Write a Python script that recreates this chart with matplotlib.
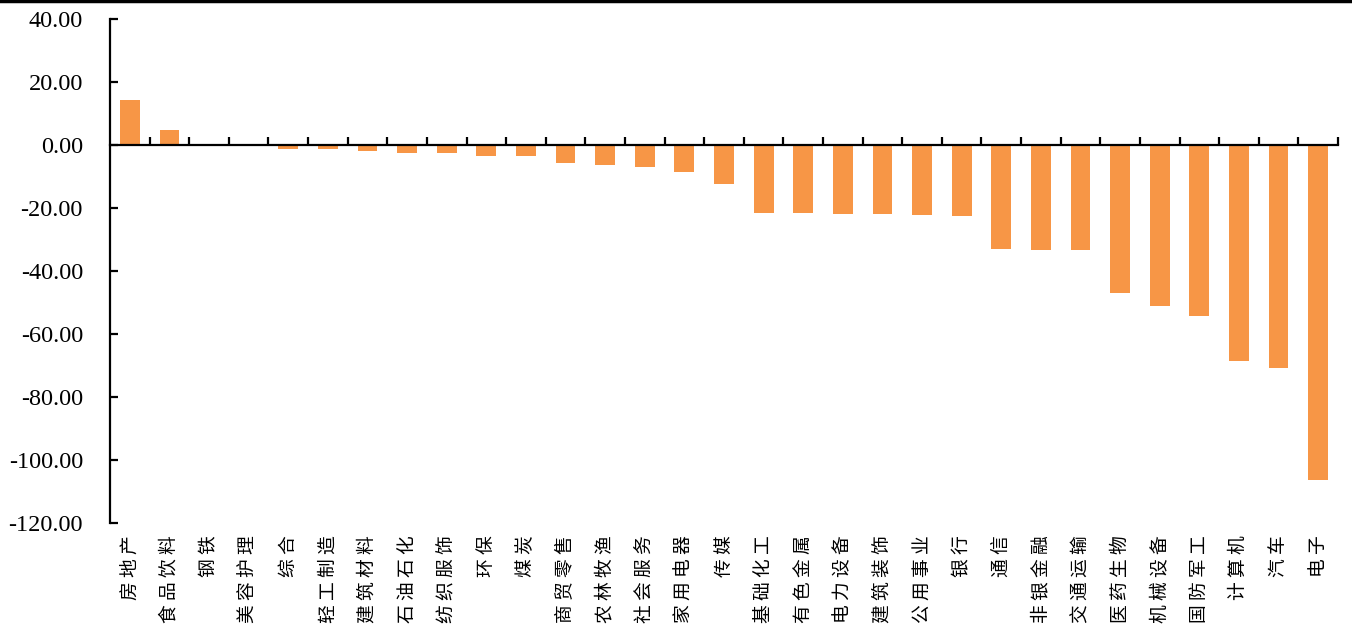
import numpy as np
import matplotlib
matplotlib.use('Agg')
import matplotlib.pyplot as plt
from matplotlib.ticker import FormatStrFormatter, FixedLocator
from matplotlib.lines import Line2D

plt.rcParams['font.family'] = ['Liberation Serif', 'Noto Sans CJK SC']
plt.rcParams['axes.unicode_minus'] = False

industries = ['房地产', '食品饮料', '钢铁', '美容护理', '综合', '轻工制造', '建筑材料', '石油石化',
              '纺织服饰', '环保', '煤炭', '商贸零售', '农林牧渔', '社会服务', '家用电器', '传媒',
              '基础化工', '有色金属', '电力设备', '建筑装饰', '公用事业', '银行', '通信', '非银金融',
              '交通运输', '医药生物', '机械设备', '国防军工', '计算机', '汽车', '电子']
values = [14.3, 4.8, 0.0, 0.0, -1.3, -1.3, -1.8, -2.5,
          -2.7, -3.5, -3.6, -5.9, -6.3, -6.9, -8.5, -12.5,
          -21.5, -21.5, -21.8, -22.1, -22.3, -22.7, -33.2, -33.4,
          -33.5, -47.1, -51.2, -54.5, -68.8, -70.8, -106.3]

fig = plt.figure(figsize=(13.52, 6.32), dpi=100)
ax = fig.add_axes([0.0814, 0.173, 0.9082, 0.797])

x = np.arange(len(industries))
ax.bar(x, values, width=0.5, color='#F79646', zorder=2)

ax.set_xlim(-0.5, len(industries) - 0.5)
ax.set_ylim(-120, 40)
ax.set_yticks(np.arange(-120, 41, 20))
ax.yaxis.set_major_formatter(FormatStrFormatter('%.2f'))

for s in ['top', 'right']:
    ax.spines[s].set_visible(False)
ax.spines['bottom'].set_position(('data', 0))
ax.spines['left'].set_linewidth(1.6)
ax.spines['bottom'].set_linewidth(1.6)

ax.tick_params(axis='y', direction='in', length=6, width=1.6, pad=19.5, labelsize=17.5)
ax.set_xticks([])
ax.xaxis.set_minor_locator(FixedLocator(x + 0.5))
ax.tick_params(axis='x', which='minor', direction='in', length=6, width=1.6)

# category labels sit under the plot, not at the zero line
for xi, name in zip(x, industries):
    ax.text(xi, -0.025, ' '.join(name), rotation=90, ha='center', va='top',
            transform=ax.get_xaxis_transform(), fontsize=13.5,
            family=['Noto Sans CJK SC'])

fig.add_artist(Line2D([0, 1], [0.998, 0.998], color='black', linewidth=2.5,
                      transform=fig.transFigure))

fig.savefig('out.png', dpi=100)
